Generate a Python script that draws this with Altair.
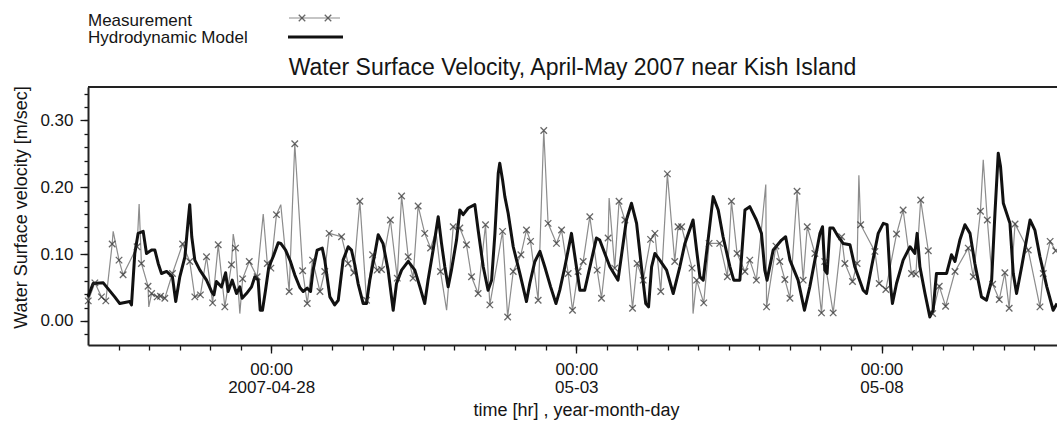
import altair as alt
import pandas as pd

# ---------------- data (hours after 2007-04-25 00:00, velocity m/s) ----------------
model_hours = [0.0, 2.0, 6.0, 10.5, 12.5, 16.4, 17.1, 18.4, 19.7, 21.7, 23.0, 25.0, 26.3, 27.6, 28.9,
               30.9, 33.2, 34.5, 36.1, 38.1, 39.4, 40.0, 40.8, 42.0, 44.0, 46.6, 48.6, 49.5, 50.5,
               52.5, 54.1, 55.1, 56.7, 58.4, 59.7, 60.6, 62.3, 64.3, 65.6, 66.9, 67.7, 68.6, 69.8,
               71.1, 72.8, 74.8, 75.8, 77.7, 79.6, 81.3, 83.3, 84.6, 86.2, 87.5, 88.5, 90.1, 92.1,
               93.1, 95.1, 97.0, 98.4, 100.3, 102.3, 103.6, 104.9, 106.2, 108.2, 109.5, 110.8, 112.8,
               114.1, 116.0, 118.0, 120.0, 121.3, 123.3, 125.9, 128.5, 130.5, 132.4, 133.7, 135.7,
               137.7, 139.0, 140.3, 141.6, 142.9, 144.9, 146.2, 147.5, 149.5, 152.1, 153.4, 155.4,
               157.3, 158.7, 160.0, 161.3, 161.9, 163.0, 163.9, 165.2, 167.2, 169.8, 172.4, 173.7,
               175.7, 177.7, 179.6, 181.9, 184.0, 185.5, 187.5, 190.1, 193.4, 195.3, 199.9, 201.2,
               205.2, 208.4, 211.7, 213.7, 215.7, 217.6, 219.3, 220.4, 221.6, 222.9, 224.8, 227.5,
               230.1, 232.7, 234.7, 237.9, 239.3, 240.6, 241.9, 243.8, 245.8, 247.8, 249.7, 252.4,
               253.9, 256.3, 258.3, 260.2, 262.8, 264.8, 266.1, 267.0, 269.4, 272.7, 274.3, 276.0,
               279.2, 281.7, 283.8, 285.8, 287.8, 288.8, 289.7, 290.6, 291.7, 293.0, 295.0, 296.9,
               299.6, 301.5, 304.8, 306.1, 308.1, 310.7, 312.7, 314.2, 315.6, 316.3, 317.9, 320.5,
               323.2, 325.1, 326.0, 327.1, 329.1, 331.0, 332.3, 333.6, 335.6, 337.6, 339.5, 340.9,
               342.8, 344.8, 346.8, 348.7, 351.3, 353.3, 355.3, 356.6, 357.9, 358.8, 359.9, 362.5,
               363.8, 365.1, 367.1, 370.4, 372.3, 374.3, 377.0, 379.5, 381.0]
model_vel = [0.036, 0.056, 0.057, 0.036, 0.026, 0.029, 0.024, 0.101, 0.131, 0.134, 0.101, 0.106, 0.106,
             0.086, 0.071, 0.074, 0.066, 0.029, 0.066, 0.096, 0.151, 0.174, 0.126, 0.091, 0.076, 0.061,
             0.044, 0.039, 0.059, 0.051, 0.072, 0.044, 0.061, 0.041, 0.051, 0.034, 0.041, 0.051, 0.066,
             0.061, 0.016, 0.016, 0.046, 0.081, 0.096, 0.117, 0.116, 0.106, 0.089, 0.069, 0.050, 0.044,
             0.049, 0.044, 0.076, 0.106, 0.109, 0.091, 0.036, 0.024, 0.031, 0.091, 0.111, 0.106, 0.084,
             0.056, 0.026, 0.026, 0.061, 0.101, 0.129, 0.116, 0.076, 0.016, 0.056, 0.076, 0.089, 0.076,
             0.051, 0.026, 0.061, 0.106, 0.156, 0.116, 0.081, 0.051, 0.076, 0.121, 0.166, 0.159, 0.169,
             0.174, 0.136, 0.081, 0.046, 0.061, 0.131, 0.221, 0.236, 0.211, 0.186, 0.161, 0.111, 0.071,
             0.029, 0.056, 0.089, 0.104, 0.081, 0.051, 0.026, 0.046, 0.081, 0.131, 0.046, 0.046, 0.124,
             0.121, 0.081, 0.061, 0.151, 0.176, 0.146, 0.081, 0.026, 0.021, 0.081, 0.101, 0.091, 0.076,
             0.041, 0.081, 0.116, 0.151, 0.106, 0.066, 0.061, 0.121, 0.186, 0.166, 0.126, 0.081, 0.061,
             0.061, 0.166, 0.171, 0.151, 0.131, 0.076, 0.061, 0.106, 0.121, 0.126, 0.091, 0.061, 0.016,
             0.051, 0.091, 0.131, 0.141, 0.076, 0.071, 0.139, 0.139, 0.126, 0.116, 0.114, 0.081, 0.046,
             0.041, 0.081, 0.131, 0.146, 0.144, 0.051, 0.026, 0.056, 0.091, 0.111, 0.101, 0.131, 0.081,
             0.041, 0.006, 0.016, 0.071, 0.071, 0.071, 0.099, 0.089, 0.121, 0.144, 0.131, 0.086, 0.036,
             0.031, 0.061, 0.161, 0.251, 0.231, 0.176, 0.146, 0.071, 0.041, 0.081, 0.151, 0.136, 0.096,
             0.051, 0.016, 0.026]

# measured samples shown with a cross marker
meas_hours = [0.1, 2.7, 5.3, 7.0, 9.5, 12.2, 13.8, 19.3, 21.0, 23.6, 25.0, 27.2, 28.5, 30.2, 33.2, 37.2,
              40.0, 42.0, 44.2, 46.6, 49.0, 51.2, 53.8, 56.4, 58.0, 60.8, 63.4, 66.5, 70.5, 71.9, 74.1,
              79.1, 81.3, 84.4, 86.2, 88.3, 91.2, 93.1, 94.8, 99.7, 102.3, 104.5, 106.9, 109.5, 111.9,
              113.7, 115.4, 118.9, 121.6, 123.3, 125.9, 127.8, 129.8, 132.4, 134.7, 138.6, 143.6, 146.2,
              148.8, 150.8, 153.4, 156.3, 158.0, 163.0, 165.0, 167.2, 170.2, 172.4, 174.0, 177.0, 179.2,
              180.9, 184.2, 186.2, 188.8, 190.5, 192.7, 194.7, 197.3, 200.2, 201.9, 204.5, 207.1, 208.8,
              211.1, 214.1, 215.9, 218.3, 221.2, 222.9, 225.2, 227.8, 230.7, 232.0, 233.4, 237.5, 239.3,
              242.1, 244.2, 248.4, 251.4, 253.0, 255.2, 258.3, 260.2, 262.8, 266.8, 270.5, 272.0, 274.0,
              276.0, 278.8, 281.2, 282.8, 285.8, 288.4, 289.7, 293.0, 296.3, 297.6, 300.6, 302.4, 303.8,
              309.4, 311.1, 313.7, 317.9, 320.5, 323.8, 325.5, 327.4, 330.4, 332.1, 334.7, 337.2, 340.9,
              346.1, 348.1, 350.9, 353.6, 355.7, 358.3, 360.5, 362.2, 364.5, 369.7, 374.3, 375.6, 378.3,
              380.5]
meas_vel = [0.030, 0.057, 0.036, 0.030, 0.115, 0.091, 0.069, 0.111, 0.086, 0.052, 0.041, 0.036, 0.037,
            0.034, 0.071, 0.115, 0.089, 0.036, 0.039, 0.096, 0.027, 0.114, 0.021, 0.084, 0.109, 0.063,
            0.089, 0.066, 0.086, 0.079, 0.159, 0.044, 0.265, 0.075, 0.026, 0.091, 0.044, 0.074, 0.131,
            0.126, 0.086, 0.072, 0.179, 0.031, 0.099, 0.076, 0.077, 0.151, 0.064, 0.187, 0.096, 0.064,
            0.172, 0.131, 0.109, 0.074, 0.141, 0.139, 0.114, 0.066, 0.041, 0.144, 0.024, 0.134, 0.006,
            0.074, 0.099, 0.136, 0.119, 0.031, 0.285, 0.146, 0.116, 0.136, 0.071, 0.016, 0.074, 0.089,
            0.156, 0.076, 0.034, 0.124, 0.079, 0.179, 0.151, 0.019, 0.086, 0.061, 0.122, 0.131, 0.044,
            0.220, 0.089, 0.141, 0.141, 0.079, 0.061, 0.027, 0.116, 0.116, 0.066, 0.179, 0.101, 0.074,
            0.091, 0.061, 0.021, 0.112, 0.089, 0.062, 0.034, 0.194, 0.061, 0.141, 0.101, 0.012, 0.089,
            0.012, 0.126, 0.086, 0.059, 0.086, 0.144, 0.104, 0.056, 0.047, 0.130, 0.166, 0.071, 0.070,
            0.181, 0.105, 0.011, 0.052, 0.022, 0.074, 0.109, 0.066, 0.164, 0.151, 0.055, 0.032, 0.072,
            0.019, 0.145, 0.106, 0.021, 0.071, 0.119, 0.105]

# unmarked peaks / troughs of the measured trace
trace_hours = [9.9, 20.1, 23.9, 57.1, 59.7, 68.9, 75.8, 136.8, 141.0, 204.9, 237.9, 266.5, 303.1, 352.0]
trace_vel = [0.134, 0.175, 0.021, 0.130, 0.011, 0.160, 0.174, 0.134, 0.016, 0.184, 0.011, 0.204, 0.218, 0.241]

y_label_values = [0.0, 0.1, 0.2, 0.3]
y_minor_values = [-0.02, 0.0, 0.02, 0.04, 0.06, 0.08, 0.1, 0.12, 0.14, 0.16, 0.18, 0.2, 0.22,
                  0.24, 0.26, 0.28, 0.3, 0.32, 0.34]
x_label_hours = [72, 192, 312]
x_label_dates = ["2007-04-28", "05-03", "05-08"]
x_minor_hours = [12, 24, 36, 48, 60, 72, 84, 96, 108, 120, 132, 144, 156, 168, 180, 192, 204,
                 216, 228, 240, 252, 264, 276, 288, 300, 312, 324, 336, 348, 360, 372]

title_text = "Water Surface Velocity, April-May 2007 near Kish Island"
legend_labels = ["Measurement", "Hydrodynamic Model"]

# ---------------- chart ----------------
W, H = 969, 258
FONT = "Liberation Sans"
INK = "#151515"

model_df = pd.DataFrame({"hour": model_hours, "vel": model_vel})
marker_df = pd.DataFrame({"hour": meas_hours, "vel": meas_vel})
trace_df = pd.concat([marker_df, pd.DataFrame({"hour": trace_hours, "vel": trace_vel})]) \
    .sort_values("hour").reset_index(drop=True)

xs = alt.Scale(domain=[0, 381], nice=False, zero=False)
ys = alt.Scale(domain=[-0.036, 0.35], nice=False, zero=False)

expr = "''"
for h, d in reversed(list(zip(x_label_hours, x_label_dates))):
    expr = f"datum.value == {h} ? ['00:00', '{d}'] : ({expr})"

common_axis = dict(grid=False, tickColor=INK, tickWidth=1.3, labelColor=INK, labelFont=FONT,
                   titleFont=FONT, titleColor=INK)

x_major_axis = alt.Axis(orient="bottom", values=x_label_hours, labelExpr=expr, tickSize=8,
                        labelFontSize=17, labelBaseline="alphabetic", labelPadding=21,
                        labelLineHeight=18, domain=True, domainColor="#222", domainWidth=2,
                        title="time [hr] , year-month-day", titleFontSize=18, titleFontWeight="normal",
                        titleX=488, titleY=70, titleBaseline="alphabetic", **common_axis)
y_major_axis = alt.Axis(orient="left", values=y_label_values, format=".2f", tickSize=8,
                        labelFontSize=17, labelPadding=7, domain=True, domainColor="#222",
                        domainWidth=2, title="Water Surface velocity [m/sec]", titleFontSize=18,
                        titleFontWeight="normal", titleX=-62, titleY=120, titleBaseline="alphabetic",
                        titleAngle=270, **common_axis)
x_minor_axis = alt.Axis(orient="bottom", values=x_minor_hours, labels=False, tickSize=5,
                        domain=False, title=None, **common_axis)
y_minor_axis = alt.Axis(orient="left", values=y_minor_values, labels=False, tickSize=4,
                        domain=False, title=None, **common_axis)

trace = alt.Chart(trace_df).mark_line(color="#8c8c8c", strokeWidth=1.2).encode(
    x=alt.X("hour:Q", scale=xs, axis=x_minor_axis),
    y=alt.Y("vel:Q", scale=ys, axis=y_minor_axis),
)
model = alt.Chart(model_df).mark_line(color="#111111", strokeWidth=3, strokeJoin="round").encode(
    x=alt.X("hour:Q", scale=xs, axis=x_major_axis),
    y=alt.Y("vel:Q", scale=ys, axis=y_major_axis),
)
CROSS = "M-1,-1L1,1M-1,1L1,-1"
markers = alt.Chart(marker_df).mark_point(shape=CROSS, filled=False, stroke="#2a2a2a",
                                          strokeWidth=1.3, size=42).encode(
    x=alt.X("hour:Q", scale=xs, axis=None),
    y=alt.Y("vel:Q", scale=ys, axis=None),
)

one = pd.DataFrame({"k": [0]})
top_frame = alt.Chart(one).mark_rule(color="#222", strokeWidth=2).encode(
    x=alt.value(0), x2=alt.value(W), y=alt.value(0))

title = alt.Chart(one).mark_text(text=title_text, font=FONT, fontSize=23, color=INK,
                                 align="center", baseline="alphabetic").encode(
    x=alt.value(W / 2), y=alt.value(-12))

leg_text1 = alt.Chart(one).mark_text(text=legend_labels[0], font=FONT, fontSize=17, color=INK,
                                     align="left", baseline="alphabetic").encode(
    x=alt.value(0), y=alt.value(-61))
leg_text2 = alt.Chart(one).mark_text(text=legend_labels[1], font=FONT, fontSize=17, color=INK,
                                     align="left", baseline="alphabetic").encode(
    x=alt.value(0), y=alt.value(-44))
leg_line1 = alt.Chart(one).mark_rule(color="#8c8c8c", strokeWidth=1.2).encode(
    x=alt.value(201), x2=alt.value(252), y=alt.value(-69))
leg_mk1 = alt.Chart(one).mark_point(shape=CROSS, filled=False, stroke="#2a2a2a",
                                    strokeWidth=1.3, size=42).encode(x=alt.value(214), y=alt.value(-69))
leg_mk2 = alt.Chart(one).mark_point(shape=CROSS, filled=False, stroke="#2a2a2a",
                                    strokeWidth=1.3, size=42).encode(x=alt.value(240), y=alt.value(-69))
leg_line2 = alt.Chart(one).mark_rule(color="#111111", strokeWidth=3).encode(
    x=alt.value(200), x2=alt.value(255), y=alt.value(-50))

chart = alt.layer(
    trace, model, markers, top_frame, title,
    leg_text1, leg_text2, leg_line1, leg_mk1, leg_mk2, leg_line2,
).resolve_axis(x="independent", y="independent").properties(
    width=W, height=H,
    padding={"left": 88, "top": 87, "right": 0, "bottom": 78},
    autosize=alt.AutoSizeParams(type="none"),
    background="white",
).configure_view(strokeWidth=0)

chart.save("out.html", embed_options={"renderer": "svg", "actions": False})
